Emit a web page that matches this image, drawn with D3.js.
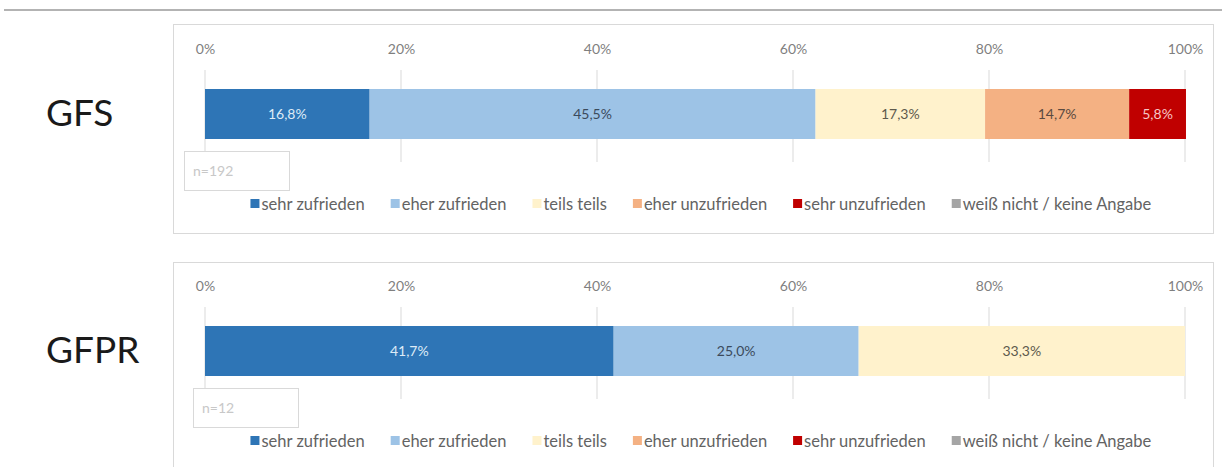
<!DOCTYPE html>
<html>
<head>
<meta charset="utf-8">
<script src="https://cdn.jsdelivr.net/npm/d3@7"></script>
<style>
  body { margin: 0; background: #fff; }
  text { font-family: Lato, "Open Sans", sans-serif; }
</style>
</head>
<body>
<svg id="chart" width="1222" height="467"></svg>
<script>
// answer categories (legend order = stacking order)
const categories = ['sehr zufrieden', 'eher zufrieden', 'teils teils', 'eher unzufrieden', 'sehr unzufrieden', 'weiß nicht / keine Angabe'];
const colors = ['#2E75B6', '#9DC3E6', '#FFF2CC', '#F4B183', '#C00000', '#A5A5A5'];
const labelColors = ['#DDEBF7', '#3B4A5C', '#5E5A4C', '#5A4A40', '#F6C6C6', '#404040'];

const groups = ['GFS', 'GFPR'];
const gfsValues = [16.8, 45.5, 17.3, 14.7, 5.8, 0];
const gfprValues = [41.7, 25.0, 33.3, 0, 0, 0];
const sampleSizes = ['n=192', 'n=12'];
const tickValues = [0, 20, 40, 60, 80, 100];

const seriesByGroup = [gfsValues, gfprValues];

const svg = d3.select('#chart');

// thin rule under the (cropped) page heading
svg.append('line')
  .attr('x1', 4).attr('x2', 1222)
  .attr('y1', 10).attr('y2', 10)
  .attr('stroke', '#9a9a9a').attr('stroke-width', 1.5);

const x = d3.scaleLinear()
  .domain([0, 100])
  .range([205, 1185]);

const fmt = v => d3.format('.1f')(v).replace('.', ',') + '%';

groups.forEach(function (name, gi) {
  const top = 24 + gi * 237;
  const g = svg.append('g').attr('transform', 'translate(0,' + top + ')');

  // panel frame
  g.append('rect')
    .attr('x', 173.5).attr('y', 0.5 + gi)
    .attr('width', 1040).attr('height', 209)
    .attr('fill', '#fff')
    .attr('stroke', '#D9D9D9');

  // group name on the left
  svg.append('text')
    .attr('x', 46).attr('y', top + 102)
    .attr('font-size', 37)
    .attr('fill', '#1a1a1a')
    .text(name);

  // gridlines
  g.append('g')
    .selectAll('line')
    .data(tickValues)
    .enter().append('line')
    .attr('x1', d => x(d)).attr('x2', d => x(d))
    .attr('y1', 46).attr('y2', 138)
    .attr('stroke', '#D9D9D9');

  // axis labels on top
  const axis = d3.axisTop(x)
    .tickValues(tickValues)
    .tickSize(0)
    .tickPadding(0)
    .tickFormat(d => d + '%');
  const ax = g.append('g')
    .attr('transform', 'translate(0,26)')
    .call(axis);
  ax.select('.domain').remove();
  ax.selectAll('text')
    .attr('font-family', 'Lato, sans-serif')
    .attr('font-size', 14)
    .attr('fill', '#7F7F7F')
    .attr('dy', '0.32em');

  // stacked bar
  const values = seriesByGroup[gi];
  const starts = [];
  let acc = 0;
  values.forEach(v => { starts.push(acc); acc += v; });
  const segs = values.map((v, i) => ({ v: v, s: starts[i], i: i })).filter(d => d.v > 0);

  g.selectAll('rect.seg')
    .data(segs)
    .enter().append('rect')
    .attr('class', 'seg')
    .attr('x', d => x(d.s))
    .attr('y', 65)
    .attr('width', d => x(d.s + d.v) - x(d.s))
    .attr('height', 50)
    .attr('fill', d => colors[d.i]);

  g.selectAll('text.lbl')
    .data(segs)
    .enter().append('text')
    .attr('class', 'lbl')
    .attr('x', d => x(d.s + d.v / 2))
    .attr('y', 90)
    .attr('dy', '0.35em')
    .attr('text-anchor', 'middle')
    .attr('font-size', 14)
    .attr('fill', d => labelColors[d.i])
    .text(d => fmt(d.v));

  // sample size box
  const nx = gi === 0 ? 184 : 193;
  g.append('rect')
    .attr('x', nx + 0.5).attr('y', 127.5)
    .attr('width', 105).attr('height', 39)
    .attr('fill', '#fff')
    .attr('stroke', '#D9D9D9');
  g.append('text')
    .attr('x', nx + 9).attr('y', 148)
    .attr('dy', '0.32em')
    .attr('font-size', 14)
    .attr('fill', '#C8C8C8')
    .text(sampleSizes[gi]);

  // legend
  const leg = g.append('g');
  const items = leg.selectAll('g')
    .data(categories)
    .enter().append('g');
  items.append('rect')
    .attr('x', 0).attr('y', -5)
    .attr('width', 9).attr('height', 9)
    .attr('fill', (d, i) => colors[i]);
  items.append('text')
    .attr('x', 11)
    .attr('dy', '0.35em')
    .attr('font-size', 16.5)
    .attr('fill', '#636363')
    .text(d => d);
  let lx = 0;
  const gap = 26;
  items.each(function () {
    const w = this.getBBox().width;
    d3.select(this).attr('transform', 'translate(' + lx + ',0)');
    lx += w + gap;
  });
  const total = lx - gap;
  leg.attr('transform', 'translate(' + (701 - total / 2) + ',180)');
});
</script>
</body>
</html>
